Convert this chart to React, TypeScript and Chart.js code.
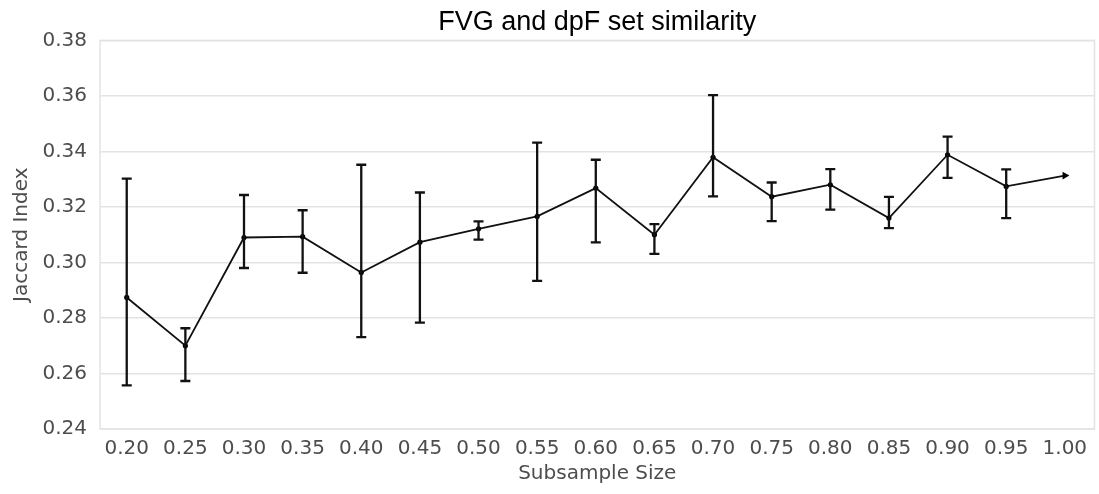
import React, { useEffect, useRef } from "react";
import { Chart, registerables } from "chart.js";

Chart.register(...registerables);

const subsampleSizes = [0.2, 0.25, 0.3, 0.35, 0.4, 0.45, 0.5, 0.55, 0.6, 0.65, 0.7, 0.75, 0.8, 0.85, 0.9, 0.95, 1.0];
const jaccardMean = [0.2874, 0.27, 0.309, 0.3093, 0.2964, 0.3073, 0.3121, 0.3166, 0.3268, 0.31, 0.3379, 0.3237, 0.328, 0.316, 0.3388, 0.3274, 0.3313];
const jaccardUpper = [0.3302, 0.2763, 0.3243, 0.3188, 0.3352, 0.3252, 0.3148, 0.3432, 0.337, 0.3138, 0.3603, 0.3288, 0.3336, 0.3236, 0.3453, 0.3335, null];
const jaccardLower = [0.2557, 0.2573, 0.298, 0.2963, 0.2731, 0.2783, 0.3082, 0.2934, 0.3072, 0.3031, 0.3238, 0.3149, 0.319, 0.3124, 0.3305, 0.316, null];
const yTicks = [0.24, 0.26, 0.28, 0.3, 0.32, 0.34, 0.36, 0.38];

const errorBarPlugin = {
  id: "errorBars",
  afterDatasetsDraw(chart: any) {
    const { ctx, scales } = chart;
    const xs = scales.x;
    const ys = scales.y;
    ctx.save();
    ctx.strokeStyle = "#111";
    ctx.lineWidth = 2.3;
    subsampleSizes.forEach((xv, i) => {
      const up = jaccardUpper[i];
      const lo = jaccardLower[i];
      if (up == null || lo == null) return;
      const px = xs.getPixelForValue(xv);
      const pu = ys.getPixelForValue(up);
      const pl = ys.getPixelForValue(lo);
      ctx.beginPath();
      ctx.moveTo(px, pu);
      ctx.lineTo(px, pl);
      ctx.moveTo(px - 5, pu);
      ctx.lineTo(px + 5, pu);
      ctx.moveTo(px - 5, pl);
      ctx.lineTo(px + 5, pl);
      ctx.stroke();
    });
    ctx.restore();
  },
};

const framePlugin = {
  id: "frame",
  beforeDatasetsDraw(chart: any) {
    const { ctx, chartArea } = chart;
    ctx.save();
    ctx.strokeStyle = "#e3e3e3";
    ctx.lineWidth = 1.5;
    ctx.strokeRect(chartArea.left, chartArea.top, chartArea.right - chartArea.left, chartArea.bottom - chartArea.top);
    ctx.restore();
  },
};

export default function App() {
  const canvasRef = useRef<HTMLCanvasElement | null>(null);

  useEffect(() => {
    if (!canvasRef.current) return;
    const n = subsampleSizes.length;
    const chart = new Chart(canvasRef.current, {
      type: "line",
      data: {
        datasets: [
          {
            data: subsampleSizes.map((x, i) => ({ x, y: jaccardMean[i] })),
            borderColor: "#111",
            backgroundColor: "#000",
            borderWidth: 1.8,
            pointRadius: subsampleSizes.map((_, i) => (i === n - 1 ? 4.5 : 2.6)),
            pointStyle: subsampleSizes.map((_, i) => (i === n - 1 ? "triangle" : "circle")) as any,
            pointRotation: subsampleSizes.map((_, i) => (i === n - 1 ? 90 : 0)),
            pointBorderWidth: 0,
            tension: 0,
          },
        ],
      },
      plugins: [framePlugin, errorBarPlugin],
      options: {
        animation: false,
        responsive: false,
        layout: { padding: { left: 0, right: 4, top: 0, bottom: 0 } },
        plugins: {
          legend: { display: false },
          tooltip: { enabled: false },
          title: {
            display: true,
            text: "FVG and dpF set similarity",
            fullSize: false,
            color: "#000",
            font: { family: "'Liberation Sans', Arial, sans-serif", size: 27, weight: "normal" },
            padding: { top: 6, bottom: 2 },
          },
        },
        scales: {
          x: {
            type: "linear",
            min: 0.1772,
            max: 1.0253,
            afterBuildTicks: (scale: any) => {
              scale.ticks = subsampleSizes.map((v) => ({ value: v }));
            },
            afterFit: (scale: any) => {
              scale.height = 65;
            },
            grid: { display: false, drawTicks: false },
            border: { display: false },
            ticks: {
              autoSkip: false,
              maxRotation: 0,
              padding: 8,
              color: "#4d4d4d",
              font: { family: "'DejaVu Sans', sans-serif", size: 20 },
              callback: (v: any) => Number(v).toFixed(2),
            },
            title: {
              display: true,
              text: "Subsample Size",
              color: "#4d4d4d",
              font: { family: "'DejaVu Sans', sans-serif", size: 20 },
              padding: { top: 0, bottom: 8 },
            },
          },
          y: {
            type: "linear",
            min: 0.24,
            max: 0.38,
            afterBuildTicks: (scale: any) => {
              scale.ticks = yTicks.map((v) => ({ value: v }));
            },
            afterFit: (scale: any) => {
              scale.width = 100;
            },
            grid: { color: "#e3e3e3", lineWidth: 1.5, drawTicks: false },
            border: { display: false },
            ticks: {
              padding: 13,
              color: "#4d4d4d",
              font: { family: "'DejaVu Sans', sans-serif", size: 20 },
              callback: (v: any) => Number(v).toFixed(2),
            },
            title: {
              display: true,
              text: "Jaccard Index",
              color: "#4d4d4d",
              font: { family: "'DejaVu Sans', sans-serif", size: 20 },
              padding: { top: 10, bottom: 0 },
            },
          },
        },
      },
    } as any);
    return () => chart.destroy();
  }, []);

  return (
    <div style={{ position: "fixed", left: 0, top: 0, width: 1099, height: 494, background: "#fff" }}>
      <canvas ref={canvasRef} width={1099} height={494} style={{ display: "block" }} />
    </div>
  );
}
